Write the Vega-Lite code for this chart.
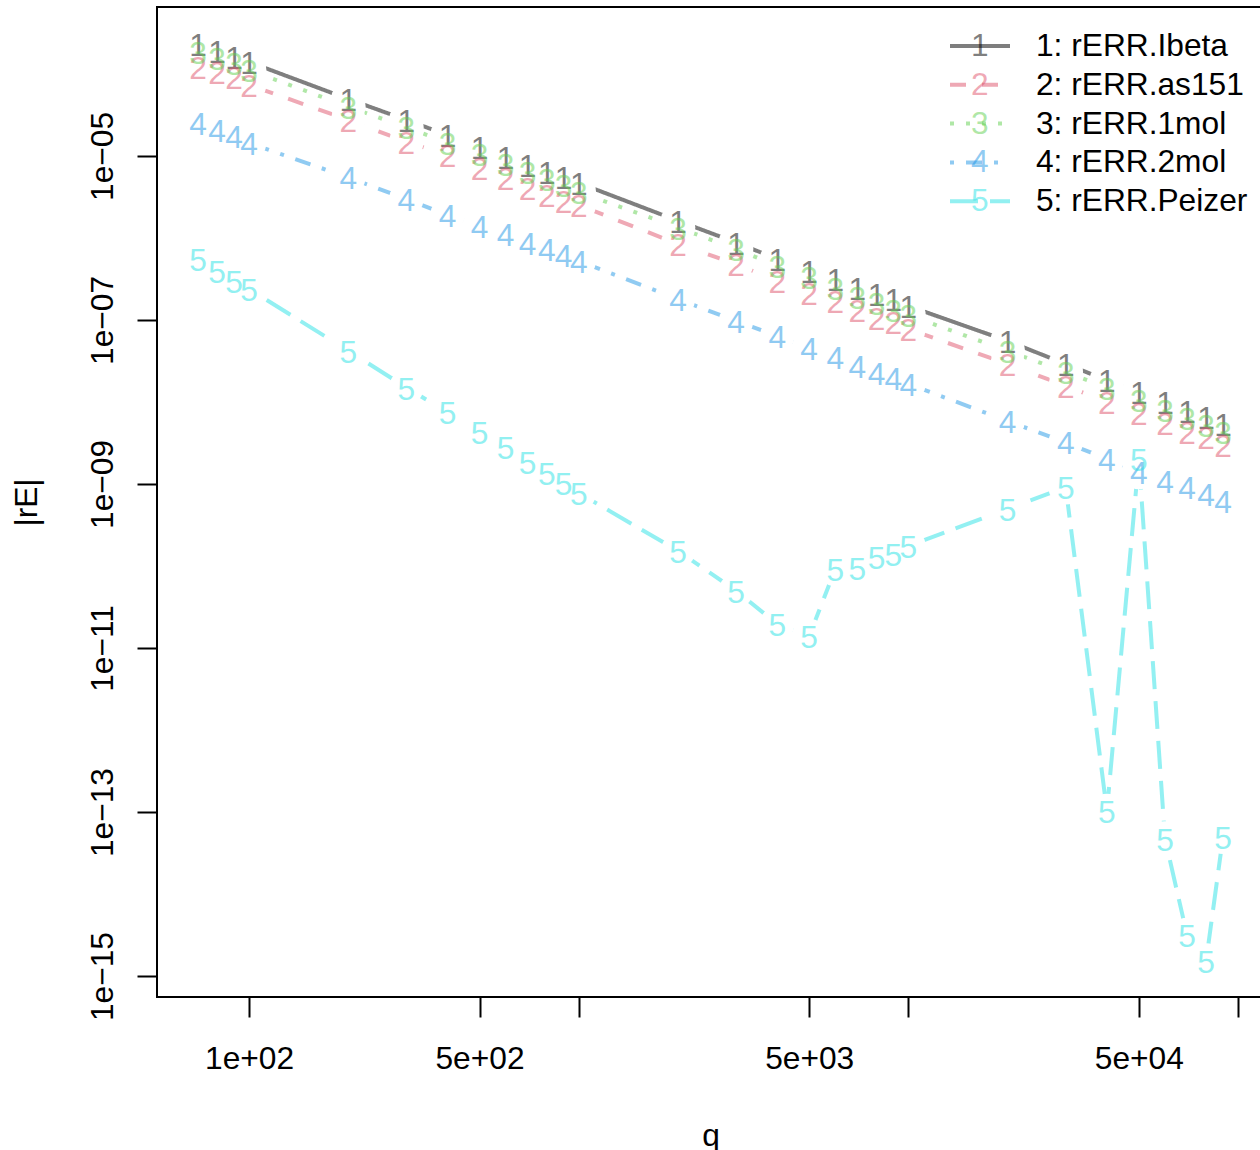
{
"$schema": "https://vega.github.io/schema/vega-lite/v6.json",
"width": 1107, "height": 990,
"autosize": {"type": "none"},
"padding": {"left": 157, "top": 7, "right": 0, "bottom": 153},
"background": "white",
"title": {"text": "Comparing qbeta(*) approximations", "fontSize": 38, "fontWeight": "bold", "font": "Liberation Sans", "color": "black", "offset": 8, "baseline": "alphabetic", "anchor": "middle", "frame": "group"},
"config": {
 "view": {"stroke": "black", "strokeWidth": 2},
 "axis": {"grid": false, "domain": false, "tickColor": "black", "tickWidth": 2, "tickSize": 20, "labelFont": "Liberation Sans", "labelFontSize": 31.7, "labelColor": "black", "labelOverlap": false, "labelFlush": false, "labelBound": false, "titleFont": "Liberation Sans", "titleFontSize": 31.7, "titleFontWeight": "normal", "titleColor": "black"}
},
"data": {"values": [
{"q":70,"s":"1","rE":2.29e-4},{"q":80,"s":"1","rE":1.90e-4},{"q":90,"s":"1","rE":1.61e-4},{"q":100,"s":"1","rE":1.40e-4},{"q":200,"s":"1","rE":4.95e-5},{"q":300,"s":"1","rE":2.75e-5},{"q":400,"s":"1","rE":1.80e-5},{"q":500,"s":"1","rE":1.30e-5},{"q":600,"s":"1","rE":9.6e-6},{"q":700,"s":"1","rE":7.77e-6},{"q":800,"s":"1","rE":6.44e-6},{"q":900,"s":"1","rE":5.47e-6},{"q":1000,"s":"1","rE":4.69e-6},{"q":2000,"s":"1","rE":1.62e-6},{"q":3000,"s":"1","rE":8.81e-7},{"q":4000,"s":"1","rE":5.55e-7},{"q":5000,"s":"1","rE":3.98e-7},{"q":6000,"s":"1","rE":3.16e-7},{"q":7000,"s":"1","rE":2.49e-7},{"q":8000,"s":"1","rE":2.07e-7},{"q":9000,"s":"1","rE":1.80e-7},{"q":10000,"s":"1","rE":1.48e-7},{"q":20000,"s":"1","rE":5.55e-8},{"q":30000,"s":"1","rE":2.90e-8},{"q":40000,"s":"1","rE":1.85e-8},{"q":50000,"s":"1","rE":1.32e-8},{"q":60000,"s":"1","rE":1.00e-8},{"q":70000,"s":"1","rE":7.76e-9},{"q":80000,"s":"1","rE":6.56e-9},{"q":90000,"s":"1","rE":5.40e-9},
{"q":70,"s":"2","rE":1.23e-4},{"q":80,"s":"2","rE":1.07e-4},{"q":90,"s":"2","rE":9.27e-5},{"q":100,"s":"2","rE":7.35e-5},{"q":200,"s":"2","rE":2.75e-5},{"q":300,"s":"2","rE":1.49e-5},{"q":400,"s":"2","rE":1.03e-5},{"q":500,"s":"2","rE":7.14e-6},{"q":600,"s":"2","rE":5.39e-6},{"q":700,"s":"2","rE":4.07e-6},{"q":800,"s":"2","rE":3.34e-6},{"q":900,"s":"2","rE":2.83e-6},{"q":1000,"s":"2","rE":2.52e-6},{"q":2000,"s":"2","rE":8.45e-7},{"q":3000,"s":"2","rE":4.82e-7},{"q":4000,"s":"2","rE":2.99e-7},{"q":5000,"s":"2","rE":2.16e-7},{"q":6000,"s":"2","rE":1.71e-7},{"q":7000,"s":"2","rE":1.32e-7},{"q":8000,"s":"2","rE":1.07e-7},{"q":9000,"s":"2","rE":9.33e-8},{"q":10000,"s":"2","rE":7.76e-8},{"q":20000,"s":"2","rE":2.90e-8},{"q":30000,"s":"2","rE":1.57e-8},{"q":40000,"s":"2","rE":1.00e-8},{"q":50000,"s":"2","rE":7.34e-9},{"q":60000,"s":"2","rE":5.55e-9},{"q":70000,"s":"2","rE":4.35e-9},{"q":80000,"s":"2","rE":3.69e-9},{"q":90000,"s":"2","rE":2.99e-9},
{"q":70,"s":"3","rE":1.87e-4},{"q":80,"s":"3","rE":1.57e-4},{"q":90,"s":"3","rE":1.36e-4},{"q":100,"s":"3","rE":1.12e-4},{"q":200,"s":"3","rE":3.99e-5},{"q":300,"s":"3","rE":2.23e-5},{"q":400,"s":"3","rE":1.46e-5},{"q":500,"s":"3","rE":1.06e-5},{"q":600,"s":"3","rE":7.98e-6},{"q":700,"s":"3","rE":6.38e-6},{"q":800,"s":"3","rE":5.25e-6},{"q":900,"s":"3","rE":4.43e-6},{"q":1000,"s":"3","rE":3.64e-6},{"q":2000,"s":"3","rE":1.34e-6},{"q":3000,"s":"3","rE":7.34e-7},{"q":4000,"s":"3","rE":4.56e-7},{"q":5000,"s":"3","rE":3.30e-7},{"q":6000,"s":"3","rE":2.49e-7},{"q":7000,"s":"3","rE":1.92e-7},{"q":8000,"s":"3","rE":1.61e-7},{"q":9000,"s":"3","rE":1.32e-7},{"q":10000,"s":"3","rE":1.15e-7},{"q":20000,"s":"3","rE":4.19e-8},{"q":30000,"s":"3","rE":2.32e-8},{"q":40000,"s":"3","rE":1.50e-8},{"q":50000,"s":"3","rE":1.06e-8},{"q":60000,"s":"3","rE":7.98e-9},{"q":70000,"s":"3","rE":6.38e-9},{"q":80000,"s":"3","rE":5.25e-9},{"q":90000,"s":"3","rE":4.35e-9},
{"q":70,"s":"4","rE":2.56e-5},{"q":80,"s":"4","rE":2.07e-5},{"q":90,"s":"4","rE":1.75e-5},{"q":100,"s":"4","rE":1.44e-5},{"q":200,"s":"4","rE":5.47e-6},{"q":300,"s":"4","rE":2.99e-6},{"q":400,"s":"4","rE":1.91e-6},{"q":500,"s":"4","rE":1.40e-6},{"q":600,"s":"4","rE":1.12e-6},{"q":700,"s":"4","rE":8.81e-7},{"q":800,"s":"4","rE":7.34e-7},{"q":900,"s":"4","rE":6.21e-7},{"q":1000,"s":"4","rE":5.25e-7},{"q":2000,"s":"4","rE":1.80e-7},{"q":3000,"s":"4","rE":9.72e-8},{"q":4000,"s":"4","rE":6.38e-8},{"q":5000,"s":"4","rE":4.56e-8},{"q":6000,"s":"4","rE":3.49e-8},{"q":7000,"s":"4","rE":2.75e-8},{"q":8000,"s":"4","rE":2.26e-8},{"q":9000,"s":"4","rE":1.96e-8},{"q":10000,"s":"4","rE":1.66e-8},{"q":20000,"s":"4","rE":5.86e-9},{"q":30000,"s":"4","rE":3.21e-9},{"q":40000,"s":"4","rE":2.02e-9},{"q":50000,"s":"4","rE":1.40e-9},{"q":60000,"s":"4","rE":1.10e-9},{"q":70000,"s":"4","rE":9.12e-10},{"q":80000,"s":"4","rE":7.52e-10},{"q":90000,"s":"4","rE":6.21e-10},
{"q":70,"s":"5","rE":5.55e-7},{"q":80,"s":"5","rE":3.96e-7},{"q":90,"s":"5","rE":3.01e-7},{"q":100,"s":"5","rE":2.39e-7},{"q":200,"s":"5","rE":4.21e-8},{"q":300,"s":"5","rE":1.50e-8},{"q":400,"s":"5","rE":7.45e-9},{"q":500,"s":"5","rE":4.25e-9},{"q":600,"s":"5","rE":2.79e-9},{"q":700,"s":"5","rE":1.83e-9},{"q":800,"s":"5","rE":1.38e-9},{"q":900,"s":"5","rE":1.03e-9},{"q":1000,"s":"5","rE":7.76e-10},{"q":2000,"s":"5","rE":1.53e-10},{"q":3000,"s":"5","rE":4.99e-11},{"q":4000,"s":"5","rE":1.96e-11},{"q":5000,"s":"5","rE":1.40e-11},{"q":6000,"s":"5","rE":9.19e-11},{"q":7000,"s":"5","rE":9.46e-11},{"q":8000,"s":"5","rE":1.29e-10},{"q":9000,"s":"5","rE":1.40e-10},{"q":10000,"s":"5","rE":1.75e-10},{"q":20000,"s":"5","rE":4.95e-10},{"q":30000,"s":"5","rE":9.12e-10},{"q":40000,"s":"5","rE":1.03e-13},{"q":50000,"s":"5","rE":2.02e-9},{"q":60000,"s":"5","rE":4.75e-14},{"q":70000,"s":"5","rE":3.16e-15},{"q":80000,"s":"5","rE":1.54e-15},{"q":90000,"s":"5","rE":5.00e-14}
]},
"encoding": {
 "x": {"field": "q", "type": "quantitative", "scale": {"type": "log", "domain": [52.57, 119830], "nice": false, "zero": false},
  "axis": {"values": [100, 500, 1000, 5000, 10000, 50000, 100000], "labelExpr": "datum.value == 100 ? '1e+02' : datum.value == 500 ? '5e+02' : datum.value == 5000 ? '5e+03' : datum.value == 50000 ? '5e+04' : ''", "labelBaseline": "alphabetic", "labelAlign": "center", "labelPadding": 51, "title": "q", "titleX": 553.5, "titleY": 148, "titleBaseline": "alphabetic", "titleAlign": "center", "titleAnchor": "middle"}},
 "y": {"field": "rE", "type": "quantitative", "scale": {"type": "log", "domain": [5.546e-16, 6.56e-4], "nice": false, "zero": false},
  "axis": {"values": [1e-5, 1e-7, 1e-9, 1e-11, 1e-13, 1e-15], "labelExpr": "'1e\u2212' + format(-round(log(datum.value)/LN10), '02d')", "labelAngle": 270, "labelAlign": "center", "labelBaseline": "alphabetic", "labelPadding": 25, "title": "|rE|", "titleAngle": 270, "titleX": -121, "titleY": 495, "titleBaseline": "alphabetic", "titleAlign": "center", "titleAnchor": "middle"}}
},
"layer": [
 {"mark": {"type": "line", "strokeWidth": 4, "opacity": 0.5, "strokeCap": "butt"},
  "encoding": {
   "stroke": {"field": "s", "type": "nominal", "scale": {"domain": ["1","2","3","4","5"], "range": ["#000000","#DF536B","#61D04F","#2297E6","#28E2E5"]},
     "legend": {"orient": "none", "legendX": 791, "legendY": 20, "padding": 0, "title": null, "symbolType": "stroke", "symbolSize": 3600, "symbolStrokeWidth": 4, "symbolOpacity": 0.5, "labelFont": "Liberation Sans", "labelFontSize": 31.7, "labelColor": "black", "labelOffset": 24, "labelLimit": 0, "clipHeight": 38, "rowPadding": 0.8, "labelExpr": "datum.label == '1' ? '1: rERR.Ibeta' : datum.label == '2' ? '2: rERR.as151' : datum.label == '3' ? '3: rERR.1mol' : datum.label == '4' ? '4: rERR.2mol' : '5: rERR.Peizer'"}},
   "strokeDash": {"field": "s", "type": "nominal", "scale": {"domain": ["1","2","3","4","5"], "range": [[1,0],[16,16],[4,12],[4,12,16,12],[28,12]]},
     "legend": {"orient": "none", "legendX": 791, "legendY": 20, "padding": 0, "title": null, "symbolType": "stroke", "symbolSize": 3600, "symbolStrokeWidth": 4, "symbolOpacity": 0.5, "labelFont": "Liberation Sans", "labelFontSize": 31.7, "labelColor": "black", "labelOffset": 24, "labelLimit": 0, "clipHeight": 38, "rowPadding": 0.8, "labelExpr": "datum.label == '1' ? '1: rERR.Ibeta' : datum.label == '2' ? '2: rERR.as151' : datum.label == '3' ? '3: rERR.1mol' : datum.label == '4' ? '4: rERR.2mol' : '5: rERR.Peizer'"}}
  }},
 {"mark": {"type": "point", "shape": "circle", "filled": true, "fill": "white", "opacity": 1, "strokeWidth": 0, "size": 1200}},
 {"mark": {"type": "text", "font": "Liberation Sans", "fontSize": 31.7, "baseline": "middle", "align": "center", "dy": 2, "opacity": 0.5},
  "encoding": {
   "text": {"field": "s"},
   "fill": {"field": "s", "type": "nominal", "scale": {"range": ["#000000","#DF536B","#61D04F","#2297E6","#28E2E5"]},
     "legend": {"orient": "none", "legendX": 791, "legendY": 20, "padding": 0, "title": null, "symbolSize": 0, "symbolOpacity": 0, "symbolStrokeWidth": 0, "labelFont": "Liberation Sans", "labelFontSize": 31.7, "labelAlign": "center", "labelOffset": 0, "labelOpacity": 0.5, "labelLimit": 0, "clipHeight": 38, "rowPadding": 0.8,
       "encode": {"labels": {"update": {"fill": {"signal": "datum.value == '1' ? '#000000' : datum.value == '2' ? '#DF536B' : datum.value == '3' ? '#61D04F' : datum.value == '4' ? '#2297E6' : '#28E2E5'"}}}}}}
  }}
]
}
